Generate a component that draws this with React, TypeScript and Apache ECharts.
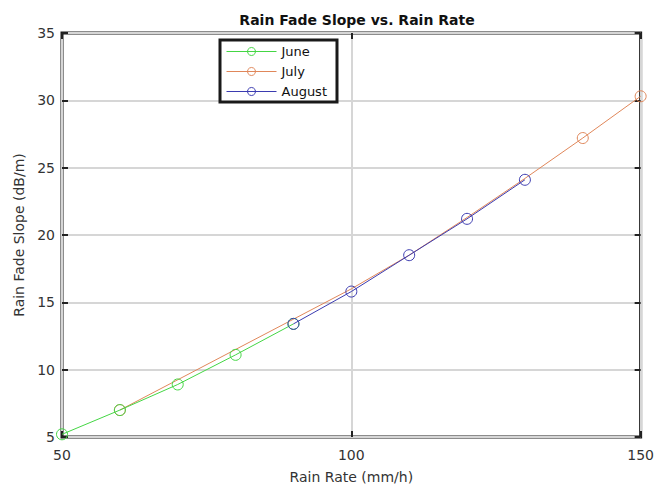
import React, { useEffect, useRef } from "react";
import * as echarts from "echarts";

const juneX = [50, 60, 70, 80, 90];
const juneY = [5.2, 7.0, 8.9, 11.1, 13.4];
const julyX = [60, 100, 110, 120, 130, 140, 150];
const julyY = [7.0, 16.0, 18.5, 21.3, 24.2, 27.2, 30.3];
const julyMarkerShown = [true, false, false, false, false, true, true];
const augX = [90, 100, 110, 120, 130];
const augY = [13.4, 15.8, 18.5, 21.2, 24.1];

const FONT = "DejaVu Sans, Verdana, sans-serif";

export default function App() {
  const ref = useRef<HTMLDivElement>(null);
  useEffect(() => {
    const chart = echarts.init(ref.current!, null, { renderer: "svg" });
    const tickStyle = { show: true, inside: true, length: 6, lineStyle: { color: "#222", width: 2 } };
    const mk = (c: string) => ({ color: "rgba(255,255,255,0)", borderColor: c, borderWidth: 1 });
    chart.setOption({
      animation: false,
      backgroundColor: "#fff",
      title: {
        text: "Rain Fade Slope vs. Rain Rate",
        left: 352,
        textAlign: "center",
        top: 8,
        textStyle: { fontFamily: FONT, fontSize: 14, fontWeight: "bold", color: "#111" },
      },
      grid: {
        left: 62, right: 16, top: 33, bottom: 51,
        show: true, borderColor: "#1a1a1a", borderWidth: 3, backgroundColor: "#fff",
      },
      legend: {
        orient: "vertical",
        left: 220,
        top: 40,
        itemWidth: 50,
        itemHeight: 10,
        itemGap: 7,
        padding: [5, 10, 4, 6],
        borderColor: "#1a1a1a",
        borderWidth: 3,
        backgroundColor: "#fff",
        lineStyle: { width: 1 },
        itemStyle: { borderWidth: 1 },
        textStyle: { fontFamily: FONT, fontSize: 13, color: "#111" },
        data: ["June", "July", "August"],
      },
      xAxis: [
        {
          type: "value", min: 50, max: 150, interval: 50,
          name: "Rain Rate (mm/h)", nameLocation: "middle", nameGap: 33,
          nameTextStyle: { fontFamily: FONT, fontSize: 14, color: "#333" },
          axisLine: { show: false },
          axisTick: tickStyle,
          axisLabel: { fontFamily: FONT, fontSize: 14, color: "#333", margin: 11 },
          splitLine: { show: true, lineStyle: { color: "#d6d6d6", width: 2 } },
        },
        {
          type: "value", min: 50, max: 150, interval: 50, position: "top",
          axisLine: { show: false }, axisTick: tickStyle, axisLabel: { show: false },
          splitLine: { show: false },
        },
      ],
      yAxis: [
        {
          type: "value", min: 5, max: 35, interval: 5,
          name: "Rain Fade Slope (dB/m)", nameLocation: "middle", nameGap: 36,
          nameTextStyle: { fontFamily: FONT, fontSize: 14, color: "#333" },
          axisLine: { show: false },
          axisTick: tickStyle,
          axisLabel: { fontFamily: FONT, fontSize: 14, color: "#333", margin: 7 },
          splitLine: { show: true, lineStyle: { color: "#d6d6d6", width: 2 } },
        },
        {
          type: "value", min: 5, max: 35, interval: 5, position: "right",
          axisLine: { show: false }, axisTick: tickStyle, axisLabel: { show: false },
          splitLine: { show: false },
        },
      ],
      series: [
        {
          name: "June", type: "line",
          data: juneX.map((x, i) => [x, juneY[i]]),
          symbol: "circle", symbolSize: 11,
          lineStyle: { color: "#44d644", width: 1 },
          itemStyle: mk("#44d644"),
          z: 3,
        },
        {
          name: "July", type: "line",
          data: julyX.map((x, i) => ({
            value: [x, julyY[i]],
            symbol: julyMarkerShown[i] ? "circle" : "none",
          })),
          symbol: "circle", symbolSize: 11,
          lineStyle: { color: "#e0875a", width: 1 },
          itemStyle: mk("#e0875a"),
          z: 2,
        },
        {
          name: "August", type: "line",
          data: augX.map((x, i) => [x, augY[i]]),
          symbol: "circle", symbolSize: 11,
          lineStyle: { color: "#3b3bb0", width: 1 },
          itemStyle: mk("#3b3bb0"),
          z: 4,
        },
      ],
    });
    return () => chart.dispose();
  }, []);
  return <div ref={ref} style={{ position: "fixed", left: 0, top: 0, width: 657, height: 489 }} />;
}
